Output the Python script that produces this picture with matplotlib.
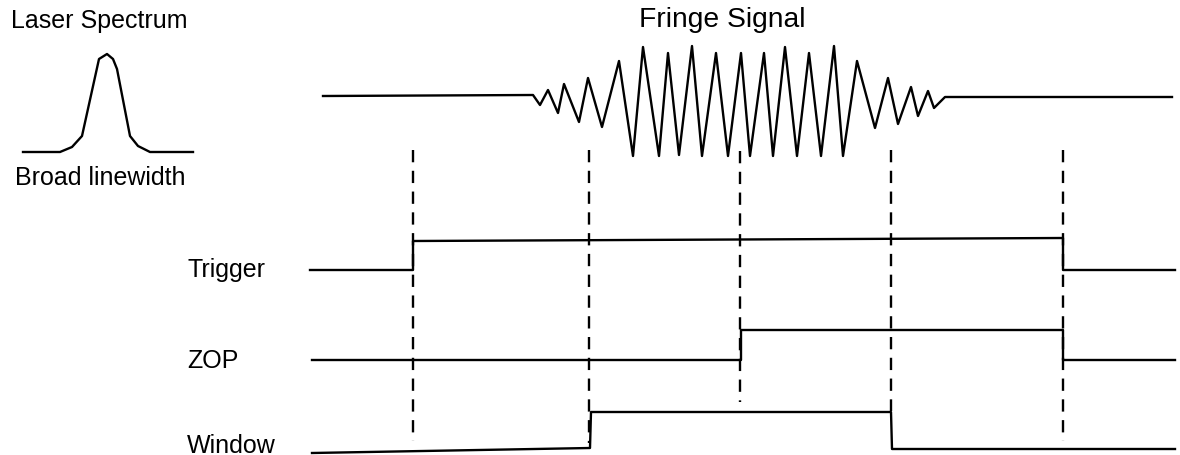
import matplotlib
matplotlib.use('Agg')
import matplotlib.pyplot as plt

plt.rcParams['font.family'] = ['Liberation Sans', 'DejaVu Sans']

# 图中各曲线的顶点（像素坐标，y 向下）
spectrum_x = [23, 60, 72, 82, 99, 107, 113, 117, 130, 138, 150, 193]
spectrum_y = [153, 153, 148, 137, 60, 55, 60, 70, 137, 147, 153, 153]

fringe_x = [323, 533, 540, 548, 558, 564, 579, 588, 602, 619, 633, 643, 659, 668, 679,
            692, 702, 716, 728, 741, 750, 764, 773, 785, 797, 809, 821, 834, 843, 857,
            875, 888, 898, 911, 918, 928, 934, 945, 1172]
fringe_y = [97, 96, 106, 91, 114, 85, 123, 79, 128, 62, 157, 48, 157, 54, 156,
            47, 157, 54, 157, 54, 157, 54, 157, 48, 157, 54, 157, 47, 157, 62,
            129, 79, 125, 88, 117, 92, 109, 98, 98]

trigger_x = [310, 413, 413, 1063, 1063, 1175]
trigger_y = [271, 271, 242, 239, 271, 271]

zop_x = [312, 741, 741, 1063, 1063, 1175]
zop_y = [361, 361, 331, 331, 361, 361]

window_x = [312, 590, 591, 891, 892, 1175]
window_y = [454, 449, 413, 413, 450, 450]

marker_x = [413, 589, 740, 891, 1063]
marker_top = [151, 151, 152, 151, 151]
marker_bottom = [442, 444, 403, 412, 442]

signal_names = ['Trigger', 'ZOP', 'Window']
signal_label_y = [277, 368, 453]


def main():
    fig = plt.figure(figsize=(11.8, 4.56), dpi=100)
    ax = fig.add_axes([0, 0, 1, 1])
    ax.set_xlim(0, 1180)
    ax.set_ylim(456, 0)
    ax.axis('off')

    lw = 1.7
    ax.plot(spectrum_x, spectrum_y, color='black', lw=lw)
    ax.plot(fringe_x, fringe_y, color='black', lw=lw)
    for xs, ys in [(trigger_x, trigger_y), (zop_x, zop_y), (window_x, window_y)]:
        ax.plot(xs, ys, color='black', lw=lw)

    for x, t, b in zip(marker_x, marker_top, marker_bottom):
        ax.plot([x, x], [t, b], color='black', lw=1.7, dashes=(5.2, 3.6))

    fs = 18
    ax.text(11, 28, 'Laser Spectrum', fontsize=fs, ha='left', va='baseline')
    ax.text(15, 185, 'Broad linewidth', fontsize=fs, ha='left', va='baseline')
    ax.text(722, 27, 'Fringe Signal', fontsize=20.3, ha='center', va='baseline')
    for name, y in zip(signal_names, signal_label_y):
        ax.text(187, y, name, fontsize=fs, ha='left', va='baseline')

    fig.savefig('out.png', dpi=100)
    plt.close(fig)


if __name__ == '__main__':
    main()
